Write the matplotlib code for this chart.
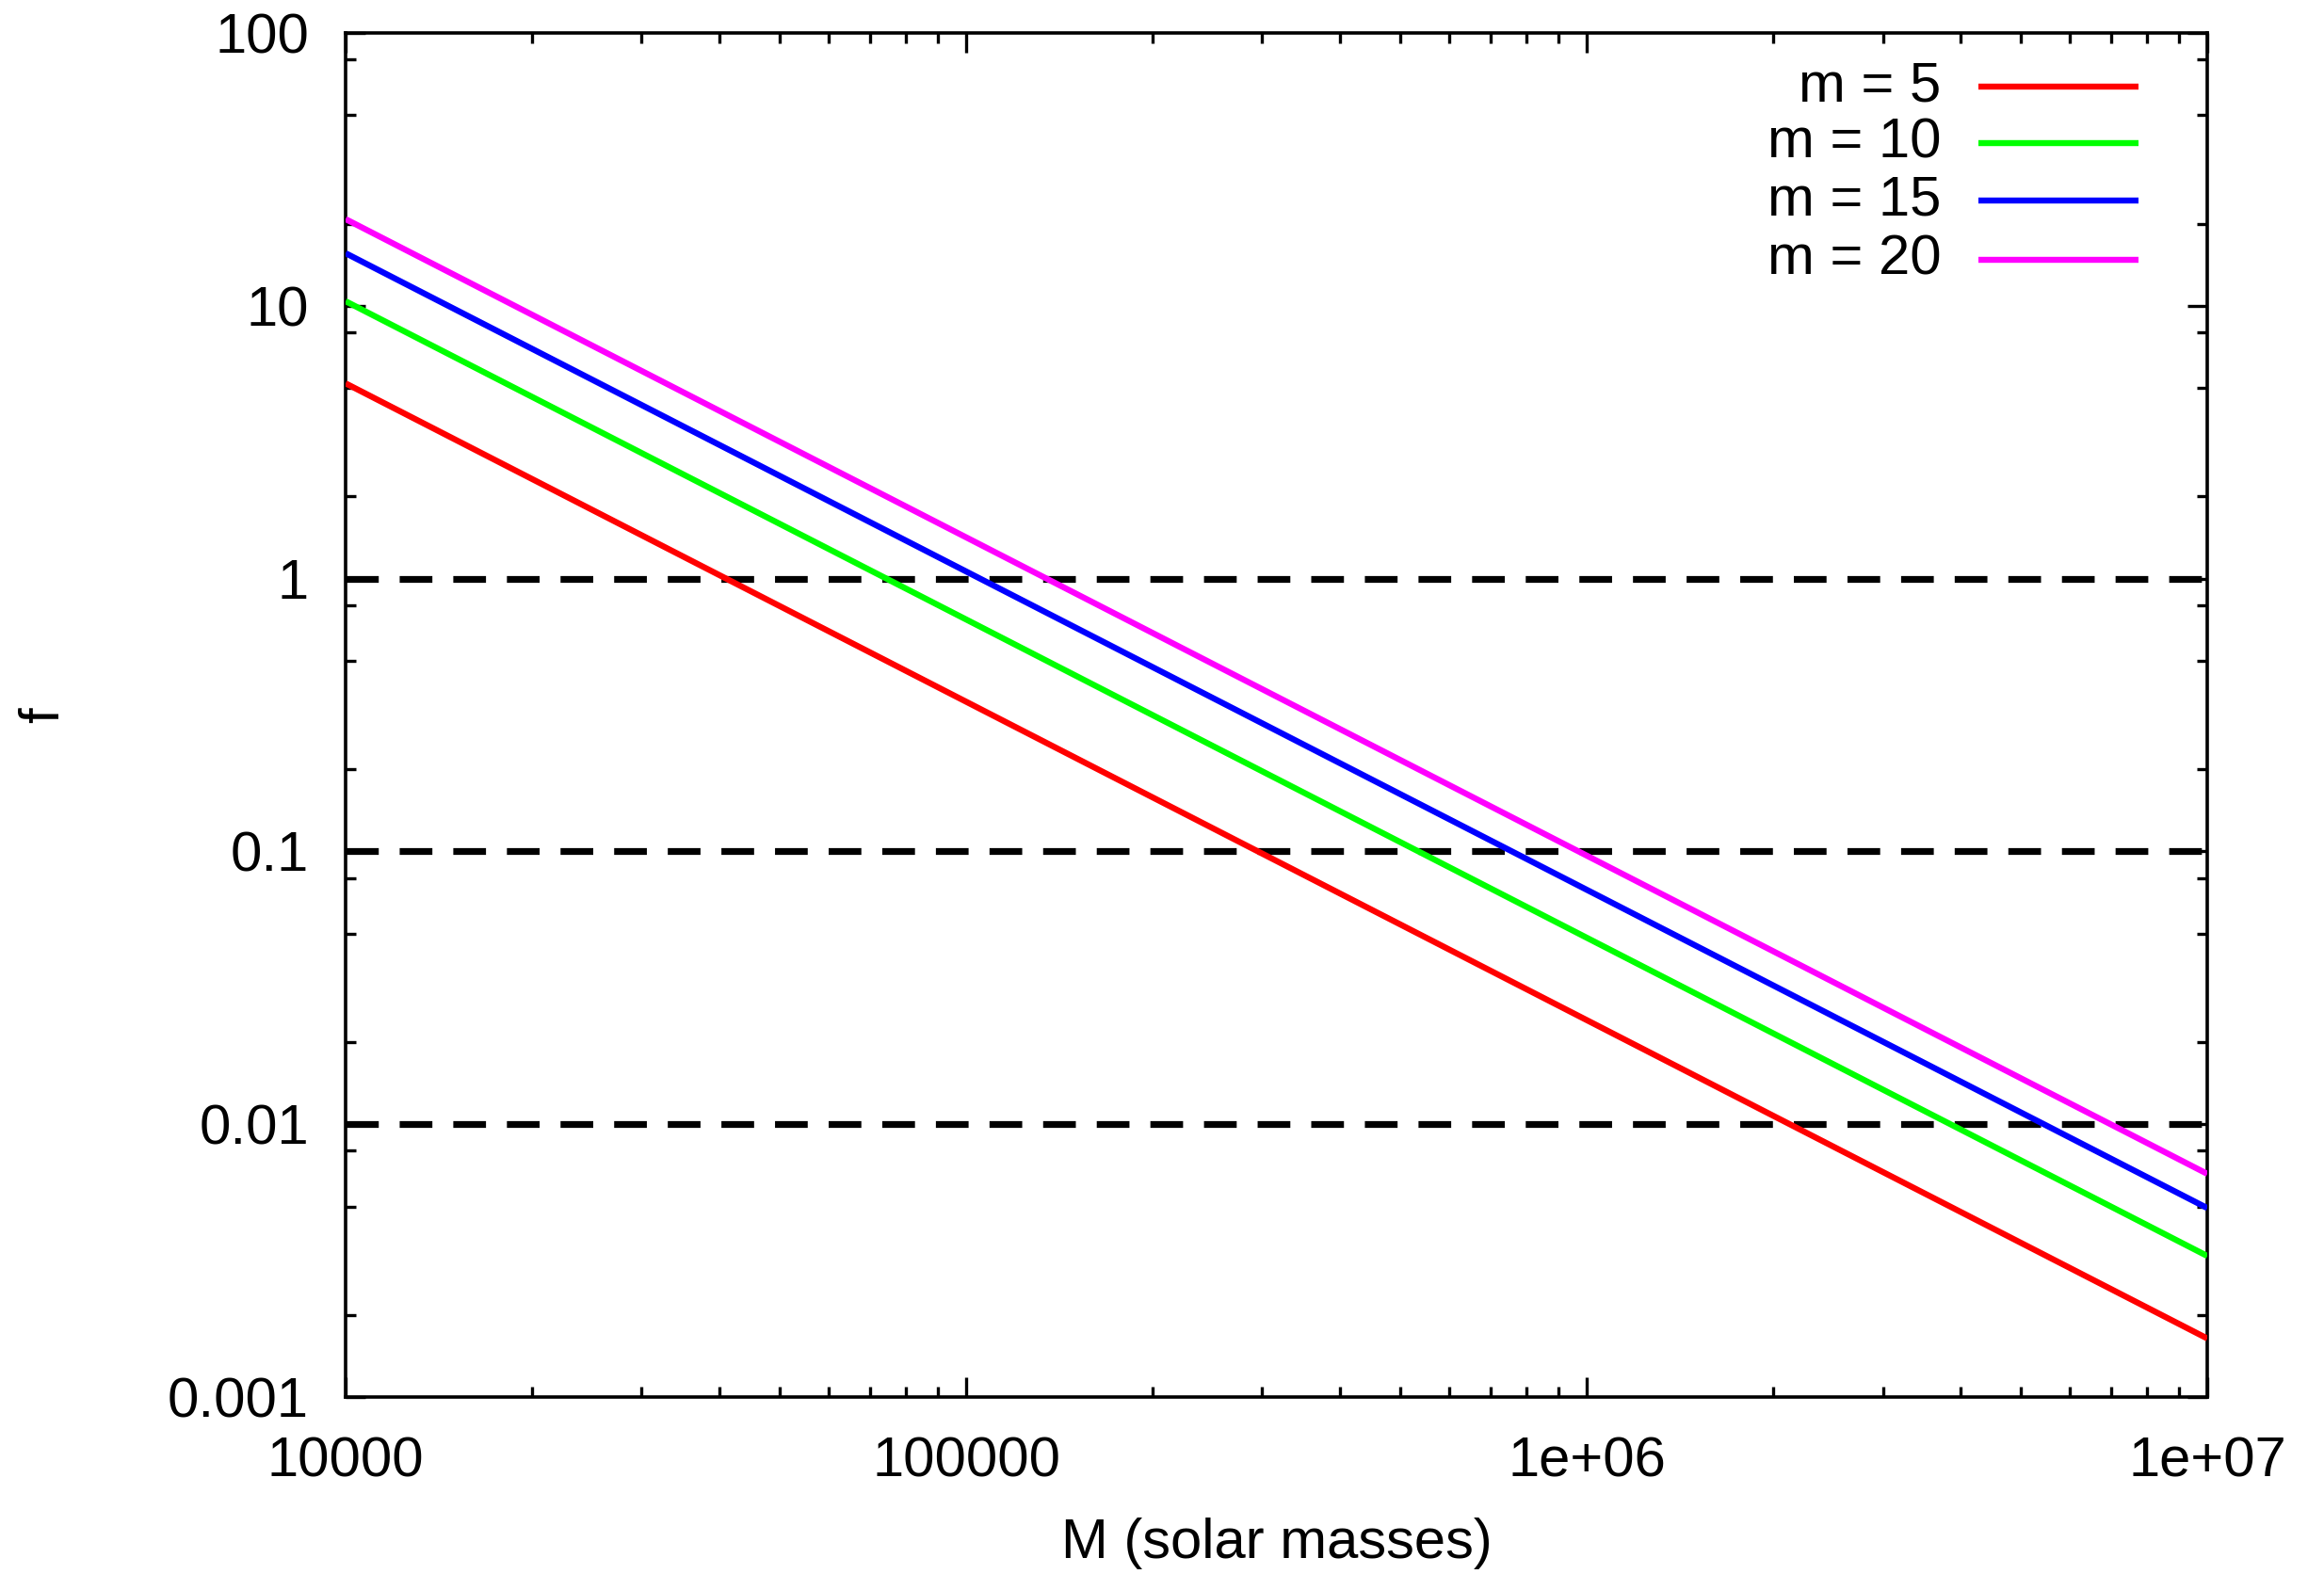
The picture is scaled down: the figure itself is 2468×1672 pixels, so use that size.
#!/usr/bin/env python3
"""Critical fraction f versus cluster mass M for a few values of m (gnuplot-style log-log)."""

import matplotlib

matplotlib.use("Agg")
import matplotlib.pyplot as plt
from matplotlib.ticker import FixedLocator, LogLocator, NullFormatter

# values: f at the two ends of the mass range
mass_ends = [1e4, 1e7]
m_values = [5, 10, 15, 20]
f_ends = {
    5: [5.2, 0.00164],
    10: [10.4, 0.00329],
    15: [15.6, 0.00493],
    20: [20.8, 0.00658],
}
colors = ["#ff0000", "#00ff00", "#0000ff", "#ff00ff"]
thresholds = [1, 0.1, 0.01]

x_ticks = [1e4, 1e5, 1e6, 1e7]
x_ticklabels = ["10000", "100000", "1e+06", "1e+07"]
y_ticks = [1e-3, 1e-2, 1e-1, 1, 10, 100]
y_ticklabels = ["0.001", "0.01", "0.1", "1", "10", "100"]

FS = 21.5


def main():
    plt.rcParams["font.family"] = ["Liberation Sans", "DejaVu Sans"]
    plt.rcParams["lines.scale_dashes"] = False

    fig = plt.figure(figsize=(12.34, 8.36), dpi=200)
    ax = fig.add_axes([0.1487, 0.1124, 0.8011, 0.8666])
    ax.set_xscale("log")
    ax.set_yscale("log")
    ax.set_xlim(1e4, 1e7)
    ax.set_ylim(1e-3, 100)

    for y in thresholds:
        ax.axhline(y, color="black", lw=2.6, dashes=(12.5, 8), zorder=2)

    for m, c in zip(m_values, colors):
        ax.plot(mass_ends, f_ends[m], color=c, lw=2.3, solid_capstyle="butt", zorder=3)

    # legend, gnuplot layout: right-aligned text, sample line to the right
    rows_y = [0.961, 0.919, 0.877, 0.834]
    for m, c, ry in zip(m_values, colors, rows_y):
        ax.text(0.857, ry, "m = {}".format(m), transform=ax.transAxes, ha="right", va="center", fontsize=FS)
        ax.plot([0.877, 0.963], [ry, ry], transform=ax.transAxes, color=c, lw=2.3, solid_capstyle="butt")

    ax.xaxis.set_major_locator(FixedLocator(x_ticks))
    ax.set_xticklabels(x_ticklabels)
    ax.xaxis.set_minor_locator(LogLocator(base=10, subs=range(2, 10)))
    ax.xaxis.set_minor_formatter(NullFormatter())
    ax.yaxis.set_major_locator(FixedLocator(y_ticks))
    ax.set_yticklabels(y_ticklabels)
    ax.yaxis.set_minor_locator(LogLocator(base=10, subs=[2, 5, 8]))
    ax.yaxis.set_minor_formatter(NullFormatter())

    ax.tick_params(which="both", direction="in", top=True, right=True, width=1.2, colors="black")
    ax.tick_params(which="major", length=7.5, labelsize=FS)
    ax.tick_params(which="minor", length=3.8)
    ax.tick_params(axis="x", which="major", pad=15)
    ax.tick_params(axis="y", which="major", pad=14)
    for s in ax.spines.values():
        s.set_linewidth(1.3)

    ax.set_xlabel("M (solar masses)", fontsize=FS)
    ax.set_ylabel("f", fontsize=FS)
    ax.xaxis.set_label_coords(0.5, -0.088)
    ax.yaxis.set_label_coords(-0.148, 0.5)

    fig.savefig("out.png")
    plt.close(fig)


if __name__ == "__main__":
    main()
